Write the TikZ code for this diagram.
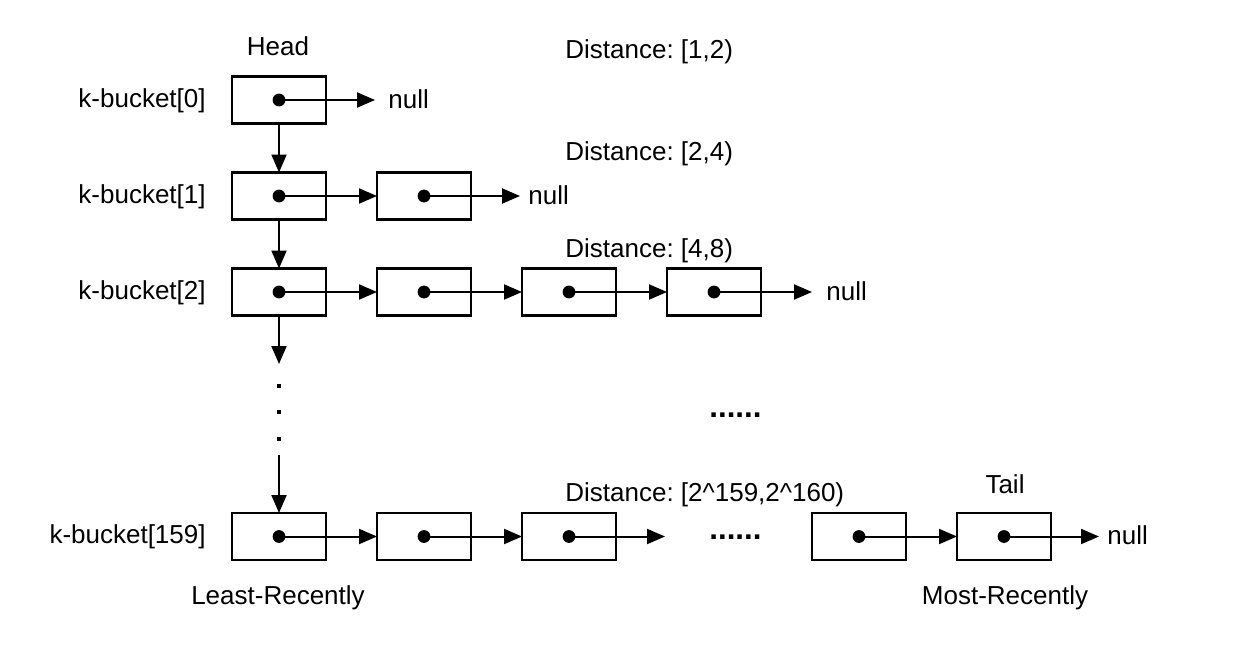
\documentclass[tikz,border=0pt]{standalone}
\usepackage{fontspec}
\setmainfont{Liberation Sans}
\usetikzlibrary{arrows.meta}
\frenchspacing
\begin{document}
\begin{tikzpicture}[x=0.5pt,y=-0.5pt,
  box/.style={draw,line width=1.1pt,minimum width=47pt,minimum height=23.5pt,inner sep=0pt,outer sep=0pt},
  arr/.style={line width=1pt,-{Triangle[length=9pt,width=7.5pt]}},
  lbl/.style={inner sep=0pt,font=\fontsize{13}{15}\selectfont\frenchspacing},
  ell/.style={inner sep=0pt,font=\fontsize{15.6}{17}\selectfont\bfseries},
  dotfill/.style={fill=black}]
\useasboundingbox (0,0) rectangle (1236,648);
% boxes
\node[box] (b0a) at (279,100) {};
\node[box] (b1a) at (279,196) {};
\node[box] (b1b) at (424,196) {};
\node[box] (b2a) at (279,292) {};
\node[box] (b2b) at (424,292) {};
\node[box] (b2c) at (569,292) {};
\node[box] (b2d) at (714,292) {};
\node[box] (bNa) at (279,536.5) {};
\node[box] (bNb) at (424,536.5) {};
\node[box] (bNc) at (569,536.5) {};
\node[box] (bNe) at (859,536.5) {};
\node[box] (bNf) at (1004,536.5) {};
% dots in boxes
\foreach \b in {b0a,b1a,b1b,b2a,b2b,b2c,b2d,bNa,bNb,bNc,bNe,bNf}
  \fill (\b.center) circle (3.2pt);
% free ends
\coordinate (e0) at (375,100);
\coordinate (e1) at (520,196);
\coordinate (e2) at (812,292);
\coordinate (eNc) at (665,536.5);
\coordinate (eN) at (1099,536.5);
\coordinate (v1) at (279,364);
\coordinate (v2) at (279,455);
% horizontal arrows
\draw[arr] (b0a.center) -- (e0);
\draw[arr] (b1a.center) -- (b1b.west);
\draw[arr] (b1b.center) -- (e1);
\draw[arr] (b2a.center) -- (b2b.west);
\draw[arr] (b2b.center) -- (b2c.west);
\draw[arr] (b2c.center) -- (b2d.west);
\draw[arr] (b2d.center) -- (e2);
\draw[arr] (bNa.center) -- (bNb.west);
\draw[arr] (bNb.center) -- (bNc.west);
\draw[arr] (bNc.center) -- (eNc);
\draw[arr] (bNe.center) -- (bNf.west);
\draw[arr] (bNf.center) -- (eN);
% vertical arrows
\draw[arr] (b0a.south) -- (b1a.north);
\draw[arr] (b1a.south) -- (b2a.north);
\draw[arr] (b2a.south) -- (v1);
\draw[arr] (v2) -- (bNa.north);
% vertical dots
\foreach \yy in {386,412,439}
  \fill[dotfill] (276.5,\yy-2) rectangle (280.5,\yy+2);
% labels
\node[lbl,anchor=base east] (k0) at (206,107) {k-bucket[0]};
\node[lbl,anchor=base east] (k1) at (206,203) {k-bucket[1]};
\node[lbl,anchor=base east] (k2) at (206,299) {k-bucket[2]};
\node[lbl,anchor=base east] (kN) at (206,543) {k-bucket[159]};
\node[lbl,anchor=base] (head) at (278,55) {Head};
\node[lbl,anchor=base] (tail) at (1005,493) {Tail};
\node[lbl,anchor=base] (least) at (278,604) {Least-Recently};
\node[lbl,anchor=base] (most) at (1005,604) {Most-Recently};
\node[lbl,anchor=base west] (d0) at (565,58) {Distance: [1,2)};
\node[lbl,anchor=base west] (d1) at (565,160) {Distance: [2,4)};
\node[lbl,anchor=base west] (d2) at (565,257) {Distance: [4,8)};
\node[lbl,anchor=base west] (dN) at (565,501) {Distance: [2\textasciicircum 159,2\textasciicircum 160)};
\node[lbl,anchor=base west] (n0) at (388,108) {null};
\node[lbl,anchor=base west] (n1) at (528,204) {null};
\node[lbl,anchor=base west] (n2) at (826,300) {null};
\node[lbl,anchor=base west] (nN) at (1107,544) {null};
\node[ell,anchor=base west] (ellA) at (709,417) {......};
\node[ell,anchor=base west] (ellB) at (709,539) {......};
\end{tikzpicture}
\end{document}
